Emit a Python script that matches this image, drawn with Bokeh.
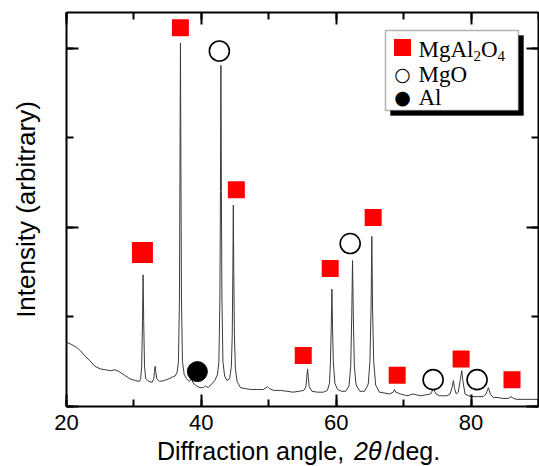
from bokeh.plotting import figure
from bokeh.layouts import column
from bokeh.models import (Label, BoxAnnotation, SingleIntervalTicker, LinearAxis,
                          Range1d, ColumnDataSource, CustomJSTickFormatter, Div)
from bokeh.embed import file_html
from bokeh.resources import INLINE

# ---- traced XRD pattern (2theta in deg, intensity in arbitrary units) ----
two_theta = [
    20.0, 20.8, 21.5, 22.1, 22.8, 23.5, 24.2, 25.0, 25.8, 26.5, 27.2, 27.8, 28.6, 29.4, 30.2, 30.8,
    31.0, 31.15, 31.27, 31.36, 31.45, 31.57, 31.75, 32.2, 32.7,
    32.95, 33.05, 33.14, 33.24, 33.4, 33.8, 34.5, 35.2, 35.7, 36.1, 36.4,
    36.6, 36.75, 36.83, 36.9, 36.97, 37.05, 37.2, 37.45, 37.8, 38.2, 38.5, 38.8, 39.3, 39.8,
    40.3, 40.6, 41.0, 41.5, 42.0, 42.4,
    42.6, 42.75, 42.83, 42.9, 42.97, 43.05, 43.2, 43.45, 43.8, 44.2, 44.45,
    44.58, 44.67, 44.74, 44.81, 44.9, 45.05, 45.3, 45.8, 46.5, 47.3, 48.3, 49.2, 49.6, 49.83,
    50.1, 50.7, 51.7, 52.7, 53.6, 54.5, 55.2,
    55.5, 55.63, 55.75, 55.87, 56.0, 56.4, 57.2, 58.1, 58.7, 59.0,
    59.15, 59.27, 59.36, 59.45, 59.57, 59.8, 60.2, 60.8, 61.4, 61.9,
    62.15, 62.3, 62.42, 62.54, 62.69, 62.95, 63.5, 64.2, 64.75,
    65.0, 65.17, 65.28, 65.39, 65.56, 65.85, 66.4, 67.2, 67.9,
    68.45, 68.64, 68.85, 69.5, 70.5, 71.0, 71.4, 71.9, 72.5, 73.3, 74.0, 74.42, 74.8, 75.3,
    76.4, 76.9, 77.2, 77.38, 77.55, 77.8, 78.1, 78.4, 78.62, 78.8, 79.1, 79.6, 80.3, 81.0,
    81.8, 82.2, 82.57, 82.85, 83.3, 84.0, 84.7, 85.5, 85.93, 86.3, 86.8, 88.0, 89.0, 90.0,
]
intensity = [
    0.72, 0.69, 0.66, 0.62, 0.56, 0.51, 0.45, 0.42, 0.41, 0.40, 0.41, 0.39, 0.35, 0.31, 0.29, 0.28,
    0.31, 0.45, 0.95, 1.47, 0.95, 0.45, 0.31, 0.28, 0.27,
    0.31, 0.39, 0.45, 0.39, 0.31, 0.28, 0.29, 0.31, 0.33, 0.34, 0.38,
    0.50, 1.20, 2.60, 4.06, 2.60, 1.20, 0.50, 0.36, 0.31, 0.28, 0.31, 0.26, 0.23, 0.21,
    0.21, 0.23, 0.21, 0.25, 0.29, 0.36,
    0.50, 1.20, 2.40, 3.81, 2.40, 1.20, 0.50, 0.34, 0.29, 0.31, 0.45,
    0.80, 1.50, 2.25, 1.50, 0.80, 0.42, 0.28, 0.21, 0.20, 0.19, 0.19, 0.19, 0.21, 0.22,
    0.20, 0.18, 0.18, 0.17, 0.16, 0.17, 0.18,
    0.22, 0.32, 0.42, 0.32, 0.22, 0.17, 0.16, 0.16, 0.18, 0.26,
    0.50, 0.90, 1.31, 0.90, 0.50, 0.26, 0.19, 0.17, 0.17, 0.23,
    0.45, 1.00, 1.63, 1.00, 0.45, 0.24, 0.17, 0.17, 0.25,
    0.50, 1.10, 1.90, 1.10, 0.50, 0.24, 0.16, 0.15, 0.14,
    0.16, 0.19, 0.16, 0.14, 0.12, 0.13, 0.14, 0.13, 0.12, 0.13, 0.14, 0.20, 0.14, 0.12,
    0.12, 0.14, 0.22, 0.29, 0.20, 0.14, 0.16, 0.30, 0.40, 0.28, 0.14, 0.12, 0.11, 0.11,
    0.11, 0.14, 0.21, 0.14, 0.10, 0.10, 0.09, 0.09, 0.11, 0.09, 0.08, 0.08, 0.08, 0.08,
]

# ---- phase markers ----
spinel_x = [31.26, 36.89, 45.19, 55.11, 59.11, 65.48, 69.04, 78.52, 86.07]
spinel_y = [1.72, 4.23, 2.42, 0.57, 1.54, 2.11, 0.35, 0.53, 0.30]
spinel_size = [21, 17, 17, 17, 17, 17, 17, 17, 17]

mgo_x = [42.67, 62.07, 74.37, 80.89]
mgo_y = [3.97, 1.82, 0.30, 0.30]

al_x = [39.41]
al_y = [0.39]

x_ticks_interval = 20
y_ticks_interval = 2

FONT = "Liberation Sans"
SERIF = "Liberation Serif"

p = figure(width=539, height=440, x_range=Range1d(20, 90), y_range=Range1d(0, 4.4),
           output_backend="svg", toolbar_location=None,
           min_border_left=66, min_border_right=1, min_border_top=12, min_border_bottom=34)
p.xgrid.visible = False
p.ygrid.visible = False
p.outline_line_color = None
p.background_fill_color = "white"
p.border_fill_color = "white"


def style_axis(ax, interval, labels):
    ax.ticker = SingleIntervalTicker(interval=interval, num_minor_ticks=2)
    ax.axis_line_color = "black"
    ax.axis_line_width = 2
    ax.major_tick_in = 12
    ax.major_tick_out = 0
    ax.minor_tick_in = 7
    ax.minor_tick_out = 0
    ax.major_tick_line_width = 2
    ax.minor_tick_line_width = 2
    ax.major_tick_line_color = "black"
    ax.minor_tick_line_color = "black"
    if labels:
        ax.major_label_text_font = FONT
        ax.major_label_text_font_size = "22px"
        ax.major_label_text_color = "black"
        ax.major_label_standoff = 8
    else:
        ax.formatter = CustomJSTickFormatter(code="return ''")
        ax.major_label_text_color = None
        ax.major_label_text_font_size = "1px"
        ax.major_label_standoff = 0


style_axis(p.xaxis[0], x_ticks_interval, True)
style_axis(p.yaxis[0], y_ticks_interval, False)
p.yaxis[0].axis_label = "Intensity (arbitrary)"
p.yaxis[0].axis_label_text_font = FONT
p.yaxis[0].axis_label_text_font_size = "26px"
p.yaxis[0].axis_label_text_font_style = "normal"
p.yaxis[0].axis_label_text_color = "black"
p.yaxis[0].axis_label_standoff = 26

top = LinearAxis()
style_axis(top, x_ticks_interval, False)
p.add_layout(top, "above")
right = LinearAxis()
style_axis(right, y_ticks_interval, False)
p.add_layout(right, "right")

src = ColumnDataSource(dict(x=two_theta, y=intensity))
p.line("x", "y", source=src, line_color="#3a3a3a", line_width=1)

p.scatter(spinel_x, spinel_y, marker="square", size=spinel_size,
          fill_color="#ff0000", line_color="#ff0000", line_width=0)
p.scatter(mgo_x, mgo_y, marker="circle", size=20,
          fill_color="white", line_color="black", line_width=1.6)
p.scatter(al_x, al_y, marker="circle", size=20,
          fill_color="black", line_color="black", line_width=1)

# ---- legend (drawn by hand, with shadow and subscripts) ----
p.add_layout(BoxAnnotation(left=324, right=457, bottom=291, top=371,
                           left_units="screen", right_units="screen",
                           bottom_units="screen", top_units="screen",
                           fill_color="black", fill_alpha=1, line_color="black"))
p.add_layout(BoxAnnotation(left=319, right=452, bottom=296, top=376,
                           left_units="screen", right_units="screen",
                           bottom_units="screen", top_units="screen",
                           fill_color="white", fill_alpha=1, line_color="black",
                           line_width=1.5))
p.add_layout(BoxAnnotation(left=327.5, right=344.5, bottom=350.5, top=367.5,
                           left_units="screen", right_units="screen",
                           bottom_units="screen", top_units="screen",
                           fill_color="#ff0000", fill_alpha=1, line_color=None))
p.add_layout(Label(x=336, y=333, x_units="screen", y_units="screen", text="\u25cb",
                   text_font="DejaVu Sans", text_font_size="19px", text_color="black",
                   text_align="center", text_baseline="middle"))
p.add_layout(Label(x=336, y=310, x_units="screen", y_units="screen", text="\u25cf",
                   text_font="DejaVu Sans", text_font_size="19px", text_color="black",
                   text_align="center", text_baseline="middle"))

leg_fs = "23px"
sub_fs = "15px"
row1, row2, row3 = 357, 332, 309
p.add_layout(Label(x=352, y=row1, x_units="screen", y_units="screen", text="MgAl",
                   text_font=SERIF, text_font_size=leg_fs, text_color="black",
                   text_baseline="middle"))
p.add_layout(Label(x=407, y=row1 - 6, x_units="screen", y_units="screen", text="2",
                   text_font=SERIF, text_font_size=sub_fs, text_color="black",
                   text_baseline="middle"))
p.add_layout(Label(x=414.5, y=row1, x_units="screen", y_units="screen", text="O",
                   text_font=SERIF, text_font_size=leg_fs, text_color="black",
                   text_baseline="middle"))
p.add_layout(Label(x=431, y=row1 - 6, x_units="screen", y_units="screen", text="4",
                   text_font=SERIF, text_font_size=sub_fs, text_color="black",
                   text_baseline="middle"))
p.add_layout(Label(x=352, y=row2, x_units="screen", y_units="screen", text="MgO",
                   text_font=SERIF, text_font_size=leg_fs, text_color="black",
                   text_baseline="middle"))
p.add_layout(Label(x=352, y=row3, x_units="screen", y_units="screen", text="Al",
                   text_font=SERIF, text_font_size=leg_fs, text_color="black",
                   text_baseline="middle"))

# ---- x axis title (with italic 2theta), as real HTML text ----
xtitle = Div(
    text='Diffraction angle,&nbsp;<i style="margin-left:3px">2\u03b8</i>'
         '<span style="margin-left:3px">/deg.</span>',
    width=539, height=26, margin=0,
    styles={"font-family": "'Liberation Sans', Arial, sans-serif", "font-size": "25px",
            "line-height": "22px", "color": "black", "padding-left": "157px",
            "padding-top": "0px", "white-space": "nowrap", "box-sizing": "border-box"},
)

layout = column(p, xtitle, spacing=0)
open("out.html", "w").write(file_html(layout, INLINE))
